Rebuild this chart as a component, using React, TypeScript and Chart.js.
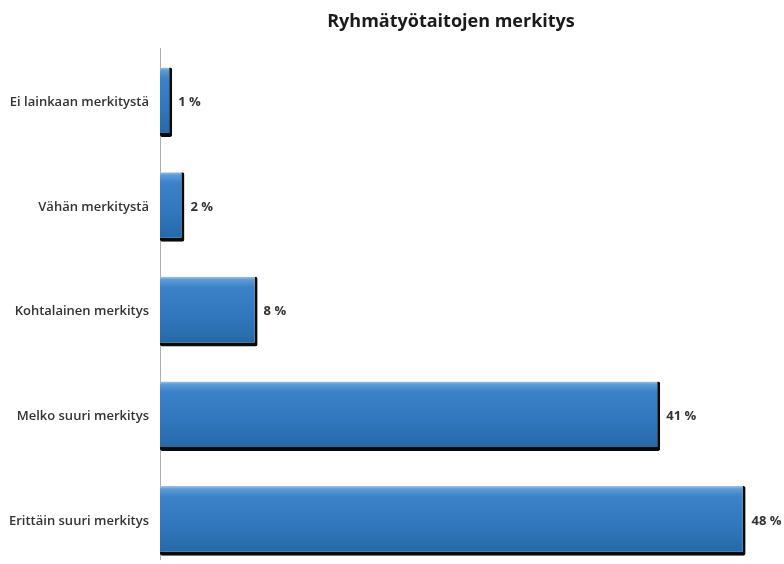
import React, { useEffect, useRef } from "react";
import { Chart, registerables } from "chart.js";

Chart.register(...registerables);

const categories = [
  "Ei lainkaan merkitystä",
  "Vähän merkitystä",
  "Kohtalainen merkitys",
  "Melko suuri merkitys",
  "Erittäin suuri merkitys",
];
const values = [1, 2, 8, 41, 48];
const valueLabels = ["1 %", "2 %", "8 %", "41 %", "48 %"];
const titleText = "Ryhmätyötaitojen merkitys";

const FONT = "'Open Sans', 'DejaVu Sans', sans-serif";
const BAR_PCT = 0.665;

export default function App() {
  const ref = useRef<HTMLCanvasElement | null>(null);

  useEffect(() => {
    const canvas = ref.current;
    if (!canvas) return;

    const labelPlugin = {
      id: "valueLabels",
      afterDatasetsDraw(chart: any) {
        const ctx = chart.ctx;
        const meta = chart.getDatasetMeta(0);
        ctx.save();
        ctx.font = `700 13px ${FONT}`;
        ctx.fillStyle = "#333333";
        ctx.textAlign = "left";
        ctx.textBaseline = "middle";
        meta.data.forEach((el: any, i: number) => {
          ctx.fillText(valueLabels[i], el.x + 6, el.y);
        });
        ctx.restore();
      },
    };

    const axisPlugin = {
      id: "axisLine",
      beforeDatasetsDraw(chart: any) {
        const ctx = chart.ctx;
        const a = chart.chartArea;
        ctx.save();
        ctx.strokeStyle = "#b0b0b0";
        ctx.lineWidth = 1;
        ctx.beginPath();
        ctx.moveTo(a.left + 0.5, a.top - 2);
        ctx.lineTo(a.left + 0.5, a.bottom - 13);
        ctx.stroke();
        ctx.restore();
      },
    };

    const titlePlugin = {
      id: "customTitle",
      afterDraw(chart: any) {
        const ctx = chart.ctx;
        ctx.save();
        ctx.font = `700 18px ${FONT}`;
        ctx.fillStyle = "#1a1a1a";
        ctx.textAlign = "center";
        ctx.textBaseline = "middle";
        ctx.fillText(titleText, 451, 22);
        ctx.restore();
      },
    };

    const chart = new Chart(canvas, {
      type: "bar",
      data: {
        labels: categories,
        datasets: [
          {
            data: values,
            backgroundColor: (c: any) => {
              const ch = c.chart;
              const ys = ch.scales?.y;
              if (!ys || !ch.chartArea) return "#2f76bc";
              const cy = ys.getPixelForValue(c.dataIndex);
              const band = (ch.chartArea.bottom - ch.chartArea.top) / categories.length;
              const h = band * BAR_PCT;
              const g = ch.ctx.createLinearGradient(0, cy - h / 2, 0, cy + h / 2);
              g.addColorStop(0, "#9fc3e8");
              g.addColorStop(0.04, "#5e9cd8");
              g.addColorStop(0.15, "#3b82c8");
              g.addColorStop(0.6, "#2f76bc");
              g.addColorStop(1, "#2367a3");
              return g;
            },
            borderColor: "#0a0a0a",
            borderWidth: { top: 0, left: 0, right: 3, bottom: 4 },
            borderSkipped: false,
            borderRadius: 2,
            barPercentage: BAR_PCT,
            categoryPercentage: 1,
          },
        ],
      },
      options: {
        indexAxis: "y",
        animation: false,
        responsive: false,
        maintainAspectRatio: false,
        layout: { padding: { top: 50, bottom: 5, right: 14, left: 0 } },
        plugins: {
          legend: { display: false },
          title: { display: false },
          tooltip: { enabled: false },
        },
        scales: {
          x: {
            display: false,
            min: 0,
            max: 50,
          },
          y: {
            grid: { display: false, drawTicks: false },
            border: { display: false },
            ticks: {
              color: "#333333",
              font: { family: FONT, size: 13, weight: "600" },
              padding: 11,
            },
            afterFit: (scale: any) => {
              scale.width = 160;
            },
          },
        },
      },
      plugins: [axisPlugin, labelPlugin, titlePlugin],
    } as any);

    return () => chart.destroy();
  }, []);

  return (
    <div style={{ position: "fixed", left: 0, top: 0, width: 784, height: 564, overflow: "hidden", background: "#ffffff" }}>
      <canvas ref={ref} width={784} height={592} style={{ display: "block", width: 784, height: 592 }} />
    </div>
  );
}
